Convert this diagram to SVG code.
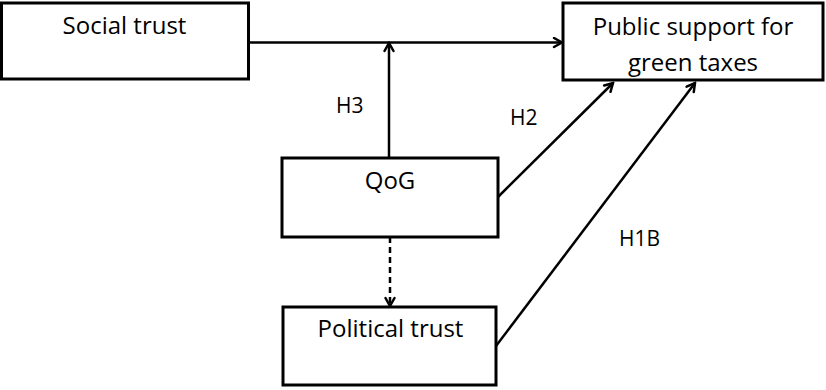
<svg xmlns="http://www.w3.org/2000/svg" width="826" height="390" viewBox="0 0 826 390">
<style>
.box{fill:#fff;stroke:#000;stroke-width:3}
.t{font-family:"Open Sans","Noto Sans",sans-serif;font-size:24px;fill:#000;text-anchor:middle}
.l{font-family:"Open Sans","Noto Sans",sans-serif;font-size:21px;fill:#000}
.c{stroke:#000;stroke-width:2.5;fill:none}
</style>
<defs>
<marker id="ah" viewBox="0 0 12 12" refX="10" refY="6" markerWidth="12" markerHeight="12" markerUnits="userSpaceOnUse" orient="auto">
<path d="M2,1.5 L10,6 L2,10.5" fill="none" stroke="#000" stroke-width="2.5" stroke-linecap="round" stroke-linejoin="miter"/>
</marker>
</defs>
<g id="connectors">
<line class="c" x1="248" y1="42.5" x2="562" y2="42.5" marker-end="url(#ah)"/>
<line class="c" x1="389" y1="158" x2="389" y2="43" marker-end="url(#ah)"/>
<line class="c" x1="390" y1="237" x2="390" y2="306" stroke-dasharray="6,4" marker-end="url(#ah)"/>
<line class="c" x1="498" y1="197" x2="613" y2="83" marker-end="url(#ah)"/>
<line class="c" x1="496" y1="346" x2="695" y2="83" marker-end="url(#ah)"/>
<text class="l" x="336" y="113">H3</text>
<text class="l" x="510" y="125">H2</text>
<text class="l" x="619" y="246">H1B</text>
</g>
<g id="social-trust">
<rect class="box" x="1.5" y="3" width="247" height="76"/>
<text class="t" x="124.5" y="34">Social trust</text>
</g>
<g id="public-support">
<rect class="box" x="563" y="3" width="260" height="77"/>
<text class="t" x="693" y="35">Public support for</text>
<text class="t" x="693" y="71">green taxes</text>
</g>
<g id="qog">
<rect class="box" x="282" y="158" width="216" height="79"/>
<text class="t" x="390" y="189">QoG</text>
</g>
<g id="political-trust">
<rect class="box" x="283" y="307" width="213" height="78"/>
<text class="t" x="390.5" y="337">Political trust</text>
</g>
</svg>
